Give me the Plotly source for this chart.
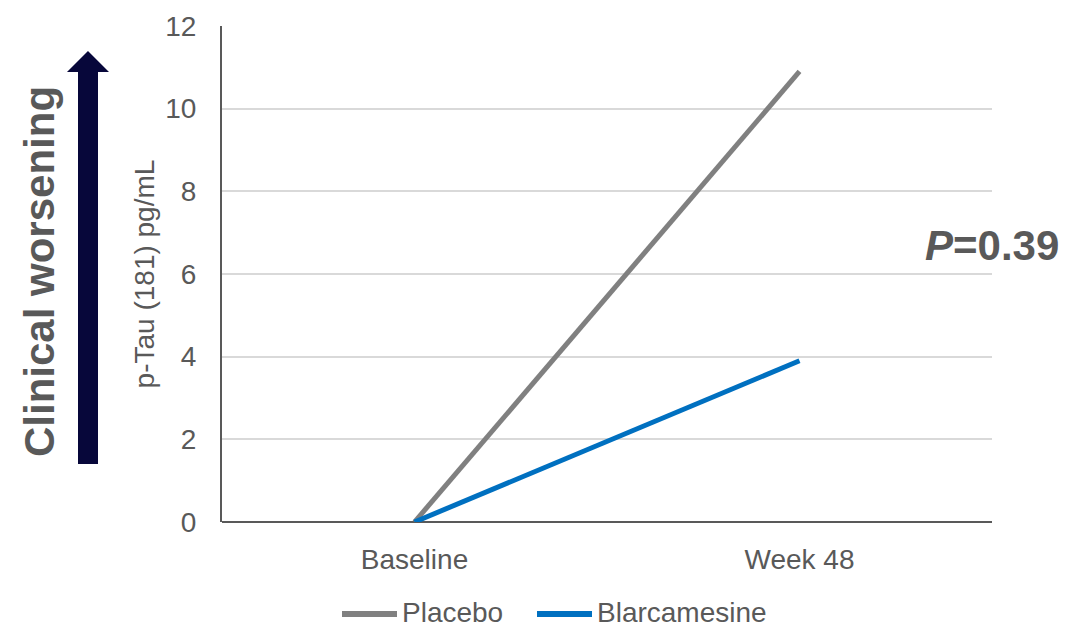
import plotly.graph_objects as go

# Change in plasma p-Tau (181) from baseline
timepoints = ["Baseline", "Week 48"]
placebo = [0, 10.9]
blarcamesine = [0, 3.9]
y_ticks = [0, 2, 4, 6, 8, 10, 12]

series = [
    ("Placebo", placebo, "#808080"),
    ("Blarcamesine", blarcamesine, "#0070C0"),
]

TEXT = "#595959"
FONT = "Liberation Sans, Arial, sans-serif"

W, H = 1069, 628
L, R, T, B = 222, 77, 26, 106
pw, ph = W - L - R, H - T - B


def px(x):
    return (x - L) / pw


def py(y):
    return (H - B - y) / ph


fig = go.Figure()
for name, values, color in series:
    fig.add_trace(go.Scatter(
        x=timepoints, y=values, name=name, mode="lines",
        line=dict(color=color, width=5), showlegend=False,
    ))

# Legend row below the axis: a wide line sample followed by the series name
legend_x = [342, 537]
for (name, _, color), x0 in zip(series, legend_x):
    fig.add_shape(type="line", xref="paper", yref="paper",
                  x0=px(x0), x1=px(x0 + 55), y0=py(614), y1=py(614),
                  line=dict(color=color, width=6))
    fig.add_annotation(text=name, xref="paper", yref="paper",
                       x=px(x0 + 58), y=py(612), xanchor="left", yanchor="middle",
                       showarrow=False, font=dict(family=FONT, size=28, color=TEXT))

# "Clinical worsening" arrow beside the y-axis
arrow = [(78, 464), (98, 464), (98, 72), (109, 72), (88, 51), (67, 72), (78, 72)]
path = "M " + " L ".join(f"{px(x):.5f},{py(y):.5f}" for x, y in arrow) + " Z"
fig.add_shape(type="path", path=path, xref="paper", yref="paper",
              fillcolor="#07073A", line=dict(width=0))

fig.add_annotation(
    text="<b>Clinical worsening</b>", textangle=-90,
    x=px(39), y=py(272), xref="paper", yref="paper",
    xanchor="center", yanchor="middle",
    showarrow=False, font=dict(family=FONT, size=42, color=TEXT),
)
fig.add_annotation(
    text="<b><i>P</i>=0.39</b>",
    x=px(992), y=py(245), xref="paper", yref="paper",
    xanchor="center", yanchor="middle",
    showarrow=False, font=dict(family=FONT, size=42, color=TEXT),
)

fig.update_layout(
    width=W, height=H,
    margin=dict(l=L, r=R, t=T, b=B, autoexpand=False),
    paper_bgcolor="white", plot_bgcolor="white",
    font=dict(family=FONT, size=28, color=TEXT),
    showlegend=False,
    xaxis=dict(
        range=[-0.5, 1.5], showgrid=False, showline=False, zeroline=False,
        ticks="", tickfont=dict(size=28, color=TEXT), ticklabelstandoff=18,
        automargin=False,
    ),
    yaxis=dict(
        range=[0, 12], tickvals=y_ticks, showgrid=True, gridcolor="#D9D9D9", gridwidth=2,
        showline=True, linecolor="#595959", linewidth=2,
        zeroline=True, zerolinecolor="#595959", zerolinewidth=2,
        ticks="", tickfont=dict(size=28, color=TEXT), ticklabelstandoff=18,
        title=dict(text="p-Tau (181) pg/mL", font=dict(size=28, color=TEXT), standoff=2),
        automargin=False,
    ),
)

fig.write_html("out.html")
